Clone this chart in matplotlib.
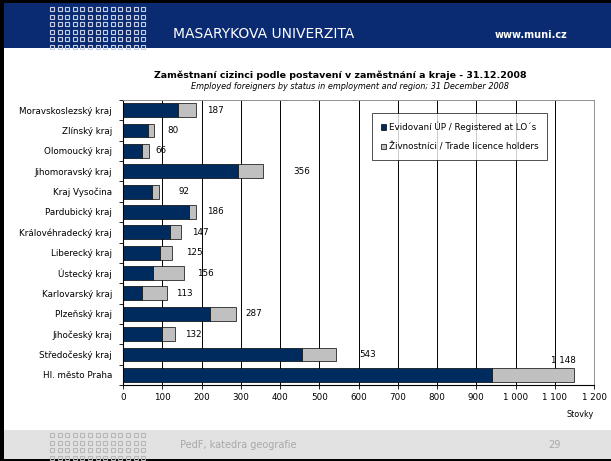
import numpy as np
import matplotlib
matplotlib.use('Agg')
import matplotlib.pyplot as plt
from matplotlib.patches import Rectangle
from matplotlib.lines import Line2D

regions = ['Moravskoslezský kraj', 'Zlínský kraj', 'Olomoucký kraj', 'Jihomoravský kraj',
           'Kraj Vysočina', 'Pardubický kraj', 'Královéhradecký kraj', 'Liberecký kraj',
           'Ústecký kraj', 'Karlovarský kraj', 'Plzeňský kraj', 'Jihočeský kraj',
           'Středočeský kraj', 'Hl. město Praha']
registered = [141, 63, 48, 294, 73, 168, 121, 95, 76, 48, 222, 99, 455, 939]
totals = [187, 80, 66, 356, 92, 186, 147, 125, 156, 113, 287, 132, 543, 1148]
total_labels = ['187', '80', '66', '356', '92', '186', '147', '125', '156', '113',
                '287', '132', '543', '1 148']
xticks = [0, 100, 200, 300, 400, 500, 600, 700, 800, 900, 1000, 1100, 1200]
xtick_labels = ['0', '100', '200', '300', '400', '500', '600', '700', '800', '900',
                '1 000', '1 100', '1 200']

# label distance from bar end (pixels), Excel placed them unevenly
label_pad = [8, 9, 5, 22, 14, 8, 8, 10, 9, 6, 7, 7, 17]

W, H = 611, 461
NAVY = '#002b5e'
GREY = '#c0c0c0'

fig = plt.figure(figsize=(W / 100, H / 100), dpi=100)
fig.patch.set_facecolor('white')


def px(x, y):
    return x / W, 1 - y / H


def band(x0, y0, x1, y1, color, z=0):
    fig.patches.append(Rectangle(px(x0, y1), (x1 - x0) / W, (y1 - y0) / H,
                                 transform=fig.transFigure, facecolor=color,
                                 edgecolor='none', zorder=z))


# header band, footer band, black slide frame
band(0, 0, W, 48, '#0a2b72')
band(0, 430, W, 459, '#e2e2e2')
band(0, 0, W, 3, 'black', 1)
band(0, 0, 4, H, 'black', 1)
band(0, 459, W, H, 'black', 1)

# dot grids (slide template decoration)
dx = np.arange(13) * 7.6 + 52
for y0, n, col in [(9.5, 6, '#c8d0e8'), (435, 4, '#b8b8b8')]:
    for r in range(n):
        yy = y0 + r * 7.5
        xs = [px(x, yy)[0] for x in dx]
        ys = [px(x, yy)[1] for x in dx]
        fig.add_artist(Line2D(xs, ys, transform=fig.transFigure, linestyle='none',
                              marker='s', markersize=2.8, markerfacecolor='none',
                              markeredgecolor=col, markeredgewidth=0.8, zorder=2))

fig.text(*px(173, 38), 'MASARYKOVA UNIVERZITA', color='white', fontsize=10, va='baseline')
fig.text(*px(567, 38), 'www.muni.cz', color='white', fontsize=7, fontweight='bold',
         ha='right', va='baseline')
fig.text(*px(180, 448), 'PedF, katedra geografie', color='#a8a8a8', fontsize=7, va='baseline')
fig.text(*px(561, 448), '29', color='#a8a8a8', fontsize=7, va='baseline', ha='right')

fig.text(*px(340, 78), 'Zaměstnaní cizinci podle postavení v zaměstnání a kraje - 31.12.2008',
         fontsize=6.8, fontweight='bold', ha='center', va='baseline')
fig.text(*px(350, 89), 'Employed foreigners by status in employment and region; 31 December 2008',
         fontsize=5.9, style='italic', ha='center', va='baseline')

ax = fig.add_axes([123 / W, 1 - 385 / H, 471 / W, 285 / H])
y = np.arange(len(regions))
trade = [t - r for t, r in zip(totals, registered)]
ax.barh(y, registered, height=0.68, color=NAVY, edgecolor='black', linewidth=0.5, zorder=3,
        label='Evidovaní ÚP / Registered at LO´s')
ax.barh(y, trade, left=registered, height=0.68, color=GREY, edgecolor='black', linewidth=0.5,
        zorder=3, label='Živnostníci / Trade licence holders')

for i, (t, lab) in enumerate(zip(totals, total_labels)):
    if i < len(label_pad):
        ax.annotate(lab, (t, y[i]), xytext=(label_pad[i], 0), textcoords='offset points',
                    fontsize=6.3, va='center', ha='left')
    else:
        ax.annotate(lab, (t, y[i]), xytext=(2, 7), textcoords='offset points',
                    fontsize=6.3, va='bottom', ha='right')

ax.set_ylim(len(regions) - 0.5, -0.5)
ax.set_xlim(0, 1200)
ax.set_xticks(xticks)
ax.set_xticklabels(xtick_labels, fontsize=6.3)
ax.set_yticks(y)
ax.set_yticklabels(regions, fontsize=6.3)
ax.set_yticks(np.arange(-0.5, len(regions)), minor=True)
ax.tick_params(axis='y', which='major', length=0, pad=8)
ax.tick_params(axis='y', which='minor', length=3, width=0.6)
ax.tick_params(axis='x', length=3, width=0.6, pad=3)
ax.xaxis.grid(True, color='black', linewidth=0.7, zorder=0)
for side in ['top', 'right']:
    ax.spines[side].set_color('#909090')
    ax.spines[side].set_linewidth(0.7)
for side in ['left', 'bottom']:
    ax.spines[side].set_linewidth(0.8)

fig.text(*px(580, 417), 'Stovky', fontsize=5.8, ha='center', va='baseline')

leg = ax.legend(loc='upper left', bbox_to_anchor=((372 - 123) / 471, 1 - (113 - 100) / 285),
                fontsize=6.3, frameon=True, fancybox=False, edgecolor='black',
                handlelength=0.6, handleheight=0.6, handletextpad=0.3, labelspacing=1.2,
                borderpad=1.0, borderaxespad=0)
leg.get_frame().set_linewidth(0.6)
leg.set_zorder(5)

fig.savefig('out.png', dpi=100)
